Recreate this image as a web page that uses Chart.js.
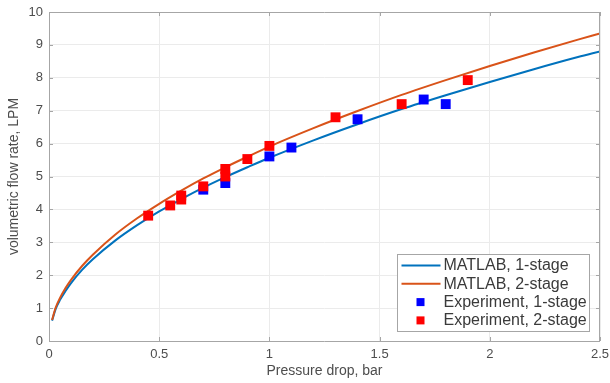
<!DOCTYPE html>
<html>
<head>
<meta charset="utf-8">
<script src="https://cdn.jsdelivr.net/npm/chart.js@4.4.1/dist/chart.umd.min.js"></script>
<style>
  html, body { margin: 0; padding: 0; background: #fff; }
  #wrap { width: 610px; height: 383px; position: relative; }
</style>
</head>
<body>
<div id="wrap"><canvas id="c" width="610" height="383"></canvas></div>
<script>
// ---- data ----
const curveX      = [0.014, 0.03, 0.05, 0.075, 0.1, 0.15, 0.2, 0.3, 0.4, 0.5, 0.6, 0.7, 0.8, 0.9, 1.0, 1.2, 1.4, 1.6, 1.8, 2.0, 2.2, 2.4, 2.5];
const matlab1     = [0.62, 0.97, 1.25, 1.52, 1.76, 2.16, 2.49, 3.05, 3.52, 3.94, 4.31, 4.66, 4.98, 5.28, 5.57, 6.10, 6.59, 7.05, 7.47, 7.87, 8.26, 8.63, 8.80];
const matlab2     = [0.64, 1.01, 1.31, 1.61, 1.86, 2.28, 2.63, 3.23, 3.73, 4.17, 4.57, 4.94, 5.28, 5.60, 5.91, 6.47, 6.99, 7.48, 7.93, 8.36, 8.77, 9.16, 9.35];
const exp1X       = [0.7, 0.8, 1.0, 1.1, 1.4, 1.7, 1.8];
const exp1Y       = [4.6, 4.8, 5.61, 5.88, 6.74, 7.34, 7.2];
const exp2X       = [0.45, 0.55, 0.6, 0.6, 0.7, 0.8, 0.8, 0.9, 1.0, 1.3, 1.6, 1.9];
const exp2Y       = [3.81, 4.12, 4.3, 4.42, 4.70, 5.0, 5.23, 5.53, 5.93, 6.80, 7.2, 7.93];
const seriesNames = ['MATLAB, 1-stage', 'MATLAB, 2-stage', 'Experiment, 1-stage', 'Experiment, 2-stage'];
const xTicks      = [0, 0.5, 1, 1.5, 2, 2.5];
const yTicks      = [0, 1, 2, 3, 4, 5, 6, 7, 8, 9, 10];
const xTitle      = 'Pressure drop, bar';
const yTitle      = 'volumetric flow rate, LPM';

const zip = (xs, ys) => xs.map((x, i) => ({ x: x, y: ys[i] }));

const FONT = '"Liberation Sans", Arial, Helvetica, sans-serif';
const AXIS_COLOR = '#a6a6a6';
const TEXT_COLOR = '#4d4d4d';

const boxPlugin = {
  id: 'matlabBox',
  afterDatasetsDraw(chart) {
    const { ctx, chartArea: a, scales: { x, y } } = chart;
    ctx.save();
    ctx.strokeStyle = AXIS_COLOR;
    ctx.lineWidth = 1;
    ctx.beginPath();
    ctx.rect(Math.round(a.left) + 0.5, Math.round(a.top) + 0.5, Math.round(a.right - a.left) - 1, Math.round(a.bottom - a.top));
    ctx.stroke();
    const t = 4;
    ctx.beginPath();
    xTicks.forEach(v => {
      const px = Math.round(x.getPixelForValue(v)) + 0.5;
      ctx.moveTo(px, a.bottom); ctx.lineTo(px, a.bottom - t);
      ctx.moveTo(px, a.top); ctx.lineTo(px, a.top + t);
    });
    yTicks.forEach(v => {
      const py = Math.round(y.getPixelForValue(v)) + 0.5;
      ctx.moveTo(a.left, py); ctx.lineTo(a.left + t, py);
      ctx.moveTo(a.right, py); ctx.lineTo(a.right - t, py);
    });
    ctx.stroke();
    ctx.restore();
  },
  afterDraw(chart) {
    const { ctx, chartArea: a } = chart;
    const w = 192, h = 77;
    const bx = Math.round(a.right - 11 - w) + 0.5;
    const by = Math.round(a.bottom - 10 - h) + 0.5;
    ctx.save();
    ctx.fillStyle = '#ffffff';
    ctx.fillRect(bx, by, w, h);
    ctx.strokeStyle = AXIS_COLOR;
    ctx.lineWidth = 1;
    ctx.strokeRect(bx, by, w, h);
    ctx.font = '16px ' + FONT;
    ctx.textBaseline = 'middle';
    ctx.textAlign = 'left';
    chart.data.datasets.forEach((ds, i) => {
      const cy = by + 11 + i * 18.3;
      if (ds.showLine) {
        ctx.strokeStyle = ds.borderColor;
        ctx.lineWidth = 2;
        ctx.beginPath();
        ctx.moveTo(bx + 4, cy); ctx.lineTo(bx + 43, cy);
        ctx.stroke();
      } else {
        ctx.fillStyle = ds.backgroundColor;
        ctx.fillRect(bx + 19, cy - 4, 8, 8);
      }
      ctx.fillStyle = '#3a3a3a';
      ctx.fillText(ds.label, bx + 46, cy + 0.5);
    });
    ctx.restore();
  }
};

new Chart(document.getElementById('c'), {
  type: 'scatter',
  data: {
    datasets: [
      { label: seriesNames[0], data: zip(curveX, matlab1), showLine: true, borderColor: '#0072BD', backgroundColor: '#0072BD', borderWidth: 2, pointRadius: 0, cubicInterpolationMode: 'monotone', order: 4 },
      { label: seriesNames[1], data: zip(curveX, matlab2), showLine: true, borderColor: '#D95319', backgroundColor: '#D95319', borderWidth: 2, pointRadius: 0, cubicInterpolationMode: 'monotone', order: 3 },
      { label: seriesNames[2], data: zip(exp1X, exp1Y), showLine: false, pointStyle: 'rect', pointRadius: 7, borderWidth: 0, backgroundColor: '#0000FF', borderColor: '#0000FF', order: 2 },
      { label: seriesNames[3], data: zip(exp2X, exp2Y), showLine: false, pointStyle: 'rect', pointRadius: 7, borderWidth: 0, backgroundColor: '#FF0000', borderColor: '#FF0000', order: 1 }
    ]
  },
  options: {
    responsive: false,
    animation: false,
    devicePixelRatio: 1,
    layout: { padding: { top: 12, right: 10, bottom: 0, left: 0 } },
    plugins: { legend: { display: false }, tooltip: { enabled: false } },
    scales: {
      x: {
        type: 'linear', min: 0, max: 2.5,
        afterBuildTicks: s => { s.ticks = xTicks.map(v => ({ value: v })); },
        afterFit: s => { s.height = 42; s.paddingLeft = 0; s.paddingRight = 0; },
        ticks: { color: TEXT_COLOR, font: { family: FONT, size: 13 }, padding: 6, callback: v => String(v), maxRotation: 0, autoSkip: false },
        grid: { color: '#ebebeb', drawTicks: false, lineWidth: 1 },
        border: { display: false },
        title: { display: true, text: xTitle, color: TEXT_COLOR, font: { family: FONT, size: 14 }, padding: { top: 0, bottom: 3 } }
      },
      y: {
        type: 'linear', min: 0, max: 10,
        afterBuildTicks: s => { s.ticks = yTicks.map(v => ({ value: v })); },
        afterFit: s => { s.width = 49; s.paddingTop = 0; s.paddingBottom = 0; },
        ticks: { color: TEXT_COLOR, font: { family: FONT, size: 13 }, padding: 6, callback: v => String(v), autoSkip: false },
        grid: { color: '#ebebeb', drawTicks: false, lineWidth: 1 },
        border: { display: false },
        title: { display: true, text: yTitle, color: TEXT_COLOR, font: { family: FONT, size: 14 }, padding: { top: 6, bottom: 0 } }
      }
    }
  },
  plugins: [boxPlugin]
});
</script>
</body>
</html>
